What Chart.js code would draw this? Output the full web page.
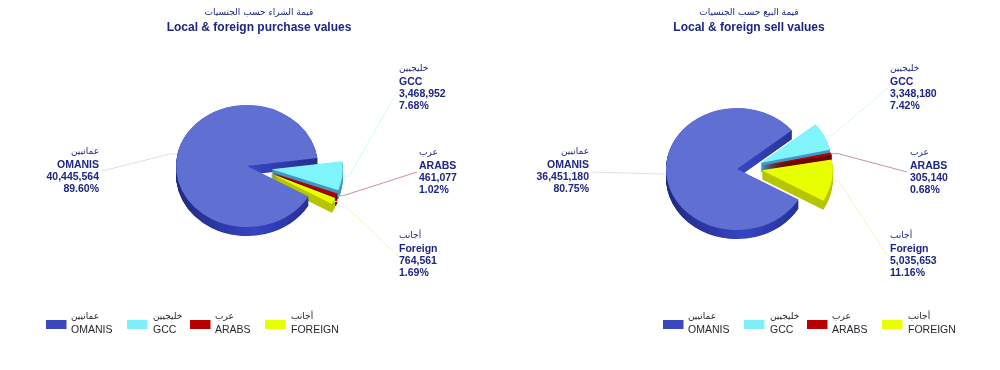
<!DOCTYPE html>
<html>
<head>
<meta charset="utf-8">
<script src="https://cdn.jsdelivr.net/npm/chart.js@4"></script>
<style>
	body { margin: 0; background: #fff; overflow: hidden; }
	canvas { position: absolute; top: 0; }
</style>
</head>
<body>
<canvas id="purchaseChart" width="500" height="370" style="left:0"></canvas>
<canvas id="sellChart" width="500" height="370" style="left:490px"></canvas>
<script>
// data
const legendNames = ['OMANIS', 'GCC', 'ARABS', 'FOREIGN'];
const sliceNames = ['OMANIS', 'GCC', 'ARABS', 'Foreign'];
const arabicNames = ['عمانيين', 'خليجيين', 'عرب', 'أجانب'];

const purchaseValues = [40445564, 3468952, 461077, 764561];
const purchasePercents = ['89.60%', '7.68%', '1.02%', '1.69%'];
const sellValues = [36451180, 3348180, 305140, 5035653];
const sellPercents = ['80.75%', '7.42%', '0.68%', '11.16%'];

// styles
const topColors = ['#5f6fd2', '#80f4fb', '#b30000', '#e8ff00'];
const wallColors = ['#2c3798', '#3f9ac4', '#6e0808', '#b6c600'];
const leaderColors = ['#dfdfea', '#d2f8fb', '#d08ca6', '#f4f3b8'];
const swatchColors = ['#3a48bd', '#7ff0fa', '#b80000', '#e8ff00'];
const navy = '#1d2585';
const labelFont = '"Liberation Sans", Arial, sans-serif';
const arabicFont = '"DejaVu Sans", sans-serif';

const squash = 0.86;
const depth = 9;
const groupPush = 11;	// the three small slices move out together
const slicePush = 14;	// and fan out a little along their own angle

// x is the text edge, y the first line, all in canvas pixels
const purchaseLabels = [
	{ x: 99, y: 152, align: 'right', lineX: 102, lineY: 171 },
	{ x: 399, y: 69, align: 'left', lineX: 398, lineY: 90 },
	{ x: 419, y: 153, align: 'left', lineX: 417, lineY: 172 },
	{ x: 399, y: 236, align: 'left', lineX: 398, lineY: 256 }
];
const sellLabels = [
	{ x: 99, y: 152, align: 'right', lineX: 102, lineY: 172 },
	{ x: 400, y: 69, align: 'left', lineX: 398, lineY: 88 },
	{ x: 420, y: 153, align: 'left', lineX: 417, lineY: 172 },
	{ x: 400, y: 236, align: 'left', lineX: 397, lineY: 255 }
];
const legendSwatchX = [46, 127, 190, 265];
const legendTextX = [71, 153, 215, 291];

function explodeOffset(arcs, i) {
	if (i === 0) return { x: 0, y: 0 };
	const mid = (arcs[i].startAngle + arcs[i].endAngle) / 2;
	const groupMid = (arcs[1].startAngle + arcs[3].endAngle) / 2;
	return {
		x: Math.cos(groupMid) * groupPush + Math.cos(mid) * slicePush,
		y: Math.sin(groupMid) * groupPush + Math.sin(mid) * slicePush
	};
}

function wallFill(ctx, arcs, i) {
	if (i !== 0) return wallColors[i];
	const g = ctx.createLinearGradient(arcs[0].x - 71, 0, arcs[0].x + 71, 0);
	g.addColorStop(0, '#1f2a80');
	g.addColorStop(0.55, '#3644c4');
	g.addColorStop(1, '#232e8c');
	return g;
}

// the pie is tilted and given a wall, the arcs stay the library's own elements
const tiltedPie = {
	id: 'tiltedPie',
	beforeDatasetsDraw(chart) {
		const { ctx } = chart;
		const arcs = chart.getDatasetMeta(0).data;
		const cy = arcs[0].y;
		ctx.save();
		ctx.translate(0, cy);
		ctx.scale(1, squash);
		ctx.translate(0, -cy);
		for (let d = depth; d >= 0; d -= 0.5) {
			arcs.forEach((arc, i) => {
				const off = explodeOffset(arcs, i);
				const saved = arc.options;
				const fill = d === 0 ? topColors[i] : wallFill(ctx, arcs, i);
				arc.options = Object.create(saved, { backgroundColor: { value: fill } });
				ctx.save();
				ctx.translate(off.x, off.y + d / squash);
				arc.draw(ctx);
				ctx.restore();
				arc.options = saved;
			});
		}
		ctx.restore();
		return false;
	}
};

// leader lines, slice labels, titles and legend
const chartText = {
	id: 'chartText',
	afterDraw(chart, args, opts) {
		const { ctx } = chart;
		const arcs = chart.getDatasetMeta(0).data;
		const values = chart.data.datasets[0].data;

		arcs.forEach((arc, i) => {
			const off = explodeOffset(arcs, i);
			const mid = (arc.startAngle + arc.endAngle) / 2;
			const r = arc.outerRadius + 1;
			const ax = arc.x + off.x + Math.cos(mid) * r;
			const ay = arc.y + (off.y + Math.sin(mid) * r) * squash;
			const lab = opts.labels[i];
			ctx.strokeStyle = leaderColors[i];
			ctx.lineWidth = 1;
			ctx.beginPath();
			ctx.moveTo(ax, ay);
			ctx.lineTo(ax + (lab.align === 'right' ? -6 : 6), ay);
			ctx.lineTo(lab.lineX, lab.lineY);
			ctx.stroke();

			const lines = [sliceNames[i], values[i].toLocaleString('en-US'), opts.percents[i]];
			ctx.fillStyle = navy;
			ctx.textAlign = lab.align;
			ctx.textBaseline = 'middle';
			ctx.font = '9px ' + arabicFont;
			ctx.fillText(arabicNames[i], lab.x, lab.y);
			ctx.font = 'bold 10.5px ' + labelFont;
			lines.forEach((t, n) => ctx.fillText(t, lab.x, lab.y + 13 + n * 12.3));
		});

		ctx.textAlign = 'center';
		ctx.fillStyle = navy;
		ctx.font = '9px ' + arabicFont;
		ctx.fillText(opts.titleAr, opts.titleX, 13);
		ctx.font = 'bold 12px ' + labelFont;
		ctx.fillText(opts.title, opts.titleX, 28);

		legendNames.forEach((name, i) => {
			const sx = legendSwatchX[i] + opts.legendShift;
			const tx = legendTextX[i] + opts.legendShift;
			ctx.fillStyle = swatchColors[i];
			ctx.fillRect(sx, 320, 20.5, 9);
			ctx.fillStyle = '#26262e';
			ctx.textAlign = 'left';
			ctx.font = '9px ' + arabicFont;
			ctx.fillText(arabicNames[i], tx, 317);
			ctx.font = '10.5px ' + labelFont;
			ctx.fillText(name, tx, 330);
		});
	}
};

function makePie(id, values, bottomPad, textOpts) {
	return new Chart(document.getElementById(id).getContext('2d'), {
		type: 'pie',
		data: {
			labels: legendNames,
			datasets: [{ data: values, backgroundColor: topColors, borderWidth: 0, radius: 71 }]
		},
		options: {
			responsive: false,
			animation: false,
			rotation: 120,
			layout: { padding: { right: 6, bottom: bottomPad } },
			plugins: { legend: { display: false }, tooltip: { enabled: false }, chartText: textOpts }
		},
		plugins: [tiltedPie, chartText]
	});
}

makePie('purchaseChart', purchaseValues, 38, {
	labels: purchaseLabels,
	percents: purchasePercents,
	title: 'Local & foreign purchase values',
	titleAr: 'قيمة الشراء حسب الجنسيات',
	titleX: 259,
	legendShift: 0
});

makePie('sellChart', sellValues, 32, {
	labels: sellLabels,
	percents: sellPercents,
	title: 'Local & foreign sell values',
	titleAr: 'قيمة البيع حسب الجنسيات',
	titleX: 259,
	legendShift: 127
});
</script>
</body>
</html>
